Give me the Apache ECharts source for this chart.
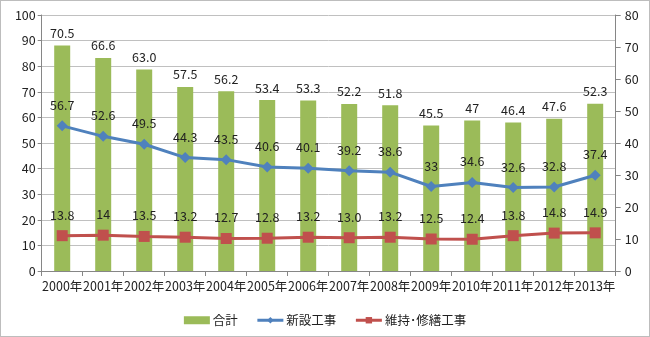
<!DOCTYPE html>
<html><head><meta charset="utf-8">
<script src="https://cdn.jsdelivr.net/npm/echarts@6/dist/echarts.min.js"></script>
<style>
html,body{margin:0;padding:0;background:#fff;}
#frame{position:absolute;left:0;top:0;width:648px;height:335px;border:1px solid #bdbdbd;background:#fff;}
#c{position:absolute;left:0;top:0;width:650px;height:337px;}
</style></head>
<body><div id="frame"></div><div id="c"></div>
<script>
const categories = ['2000年','2001年','2002年','2003年','2004年','2005年','2006年','2007年','2008年','2009年','2010年','2011年','2012年','2013年'];
const totalValues = [70.5, 66.6, 63.0, 57.5, 56.2, 53.4, 53.3, 52.2, 51.8, 45.5, 47, 46.4, 47.6, 52.3];
const totalLabels = ['70.5','66.6','63.0','57.5','56.2','53.4','53.3','52.2','51.8','45.5','47','46.4','47.6','52.3'];
const newValues = [56.7, 52.6, 49.5, 44.3, 43.5, 40.6, 40.1, 39.2, 38.6, 33, 34.6, 32.6, 32.8, 37.4];
const newLabels = ['56.7','52.6','49.5','44.3','43.5','40.6','40.1','39.2','38.6','33','34.6','32.6','32.8','37.4'];
const maintValues = [13.8, 14, 13.5, 13.2, 12.7, 12.8, 13.2, 13.0, 13.2, 12.5, 12.4, 13.8, 14.8, 14.9];
const maintLabels = ['13.8','14','13.5','13.2','12.7','12.8','13.2','13.0','13.2','12.5','12.4','13.8','14.8','14.9'];
const leftTicks = {min:0, max:100, interval:10};
const rightTicks = {min:0, max:80, interval:10};

const font = '"Noto Sans CJK JP", "Noto Sans", sans-serif';
const chart = echarts.init(document.getElementById('c'));
const labelStyle = {color:'#222', fontSize:12.5, fontFamily:font};
chart.setOption({
  animation:false,
  backgroundColor:'transparent',
  textStyle:{fontFamily:font},
  grid:{left:41.7, right:34.3, top:15, bottom:66, containLabel:false},
  legend:{
    top:309, left:'center', itemGap:18, itemWidth:26, itemHeight:8,
    textStyle:{fontSize:12.5, color:'#222', fontFamily:font, padding:[0,0,0,-2]},
    data:[
      {name:'合計', icon:'rect', itemStyle:{color:'#9bbb59'}},
      {name:'新設工事', lineStyle:{width:3, color:'#4f81bd'}},
      {name:'維持･修繕工事', lineStyle:{width:3, color:'#c0504d'}}
    ]
  },
  xAxis:{
    type:'category', data:categories, boundaryGap:true,
    axisLine:{lineStyle:{color:'#868686'}},
    axisTick:{show:true, length:5, lineStyle:{color:'#868686'}},
    axisLabel:{color:'#222', fontSize:12.5, margin:9, interval:0, fontFamily:font}
  },
  yAxis:[
    {type:'value', min:leftTicks.min, max:leftTicks.max, interval:leftTicks.interval,
     axisLine:{show:true, lineStyle:{color:'#868686'}},
     axisTick:{show:true, length:4, lineStyle:{color:'#868686'}},
     splitLine:{lineStyle:{color:'#c0c0c0'}},
     axisLabel:{color:'#222', fontSize:12.5, margin:6, fontFamily:font}},
    {type:'value', min:rightTicks.min, max:rightTicks.max, interval:rightTicks.interval,
     axisLine:{show:true, lineStyle:{color:'#868686'}},
     axisTick:{show:true, length:5, lineStyle:{color:'#868686'}},
     splitLine:{show:false},
     axisLabel:{color:'#222', fontSize:12.5, margin:9, fontFamily:font}}
  ],
  series:[
    {name:'合計', type:'bar', yAxisIndex:1, data:totalValues, barWidth:16,
     itemStyle:{color:'#9bbb59'},
     label:{show:true, position:'top', distance:6, ...labelStyle,
       formatter:p=>totalLabels[p.dataIndex]}, z:2},
    {name:'新設工事', type:'line', yAxisIndex:0, data:newValues,
     symbol:'diamond', symbolSize:11,
     lineStyle:{color:'#4f81bd', width:3}, itemStyle:{color:'#4f81bd'},
     label:{show:true, position:'top', distance:9, ...labelStyle,
       formatter:p=>newLabels[p.dataIndex]}, z:3},
    {name:'維持･修繕工事', type:'line', yAxisIndex:0, data:maintValues,
     symbol:'rect', symbolSize:11,
     lineStyle:{color:'#c0504d', width:3}, itemStyle:{color:'#c0504d'},
     label:{show:true, position:'top', distance:9, ...labelStyle,
       formatter:p=>maintLabels[p.dataIndex]}, z:4}
  ]
});
</script></body></html>
